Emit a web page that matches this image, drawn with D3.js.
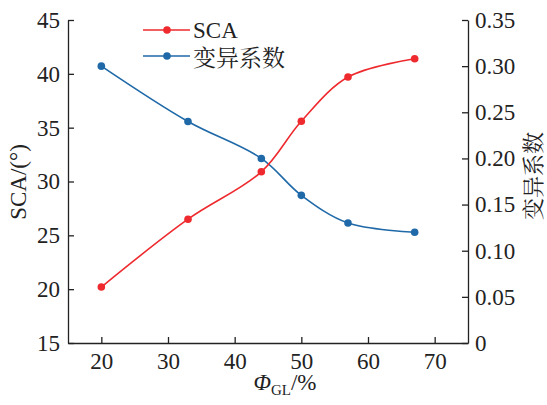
<!DOCTYPE html>
<html>
<head>
<meta charset="utf-8">
<script src="https://cdn.jsdelivr.net/npm/d3@7"></script>
<style>
  body { margin: 0; background: #fff; }
  .axis path, .axis line { stroke: #222; stroke-width: 1.3; }
</style>
</head>
<body>
<div id="chart"></div>
<script>
// data
var phiGL = [20, 33, 44, 50, 57, 67];
var sca = [20.2, 26.5, 30.9, 35.6, 39.7, 41.4];
var cv = [0.300, 0.240, 0.200, 0.160, 0.130, 0.120];
var xTicks = [20, 30, 40, 50, 60, 70];
var yLeftTicks = [15, 20, 25, 30, 35, 40, 45];
var yRightTicks = [0, 0.05, 0.10, 0.15, 0.20, 0.25, 0.30, 0.35];

var svgWidth = 547, svgHeight = 405;
var margin = { top: 20, right: 79, bottom: 62, left: 68 };
var width = svgWidth - margin.left - margin.right;
var height = svgHeight - margin.top - margin.bottom;

var serif = '"Liberation Serif", "Times New Roman", serif';
var cjk = '"Noto Serif CJK SC", "Liberation Serif", serif';
var red = "#ee2a2e", blue = "#1f69a8";

var svg = d3.select("#chart").append("svg")
    .attr("width", svgWidth)
    .attr("height", svgHeight);

var g = svg.append("g")
    .attr("transform", `translate(${margin.left}, ${margin.top})`);

var x = d3.scaleLinear().domain([15, 75]).range([0, width]);
var yL = d3.scaleLinear().domain([15, 45]).range([height, 0]);
var yR = d3.scaleLinear().domain([0, 0.35]).range([height, 0]);

// axes, ticks pointing inward
var xAxis = d3.axisBottom(x).tickValues(xTicks).tickSizeInner(-6).tickSizeOuter(0).tickPadding(10);
var yAxisL = d3.axisLeft(yL).tickValues(yLeftTicks).tickSizeInner(-6).tickSizeOuter(0).tickPadding(8);
var yAxisR = d3.axisRight(yR).tickValues(yRightTicks).tickSizeInner(-6).tickSizeOuter(0).tickPadding(7)
    .tickFormat(d => d === 0 ? "0" : d3.format(".2f")(d));

g.append("g").attr("class", "axis")
    .attr("transform", `translate(0, ${height})`)
    .call(xAxis);
g.append("g").attr("class", "axis").call(yAxisL);
g.append("g").attr("class", "axis")
    .attr("transform", `translate(${width}, 0)`)
    .call(yAxisR);

g.selectAll(".axis text")
    .style("font-family", serif)
    .style("font-size", "23px")
    .style("fill", "#222");

// lines
var lineL = d3.line().x((d, i) => x(phiGL[i])).y(d => yL(d)).curve(d3.curveCatmullRom.alpha(0.5));
var lineR = d3.line().x((d, i) => x(phiGL[i])).y(d => yR(d)).curve(d3.curveCatmullRom.alpha(0.5));

g.append("path").datum(cv)
    .attr("d", lineR).attr("fill", "none")
    .attr("stroke", blue).attr("stroke-width", 1.6);
g.append("path").datum(sca)
    .attr("d", lineL).attr("fill", "none")
    .attr("stroke", red).attr("stroke-width", 1.6);

g.selectAll(".ptR").data(cv).enter().append("circle")
    .attr("cx", (d, i) => x(phiGL[i])).attr("cy", d => yR(d))
    .attr("r", 3.8).attr("fill", blue);
g.selectAll(".ptL").data(sca).enter().append("circle")
    .attr("cx", (d, i) => x(phiGL[i])).attr("cy", d => yL(d))
    .attr("r", 3.8).attr("fill", red);

// legend
var legend = [
  { name: "SCA", color: red, y: 30, dy: 8, font: serif },
  { name: "变异系数", color: blue, y: 56, dy: 10, font: cjk }
];
legend.forEach(function(l) {
  svg.append("line").attr("x1", 143).attr("x2", 190)
      .attr("y1", l.y).attr("y2", l.y)
      .attr("stroke", l.color).attr("stroke-width", 1.6);
  svg.append("circle").attr("cx", 167).attr("cy", l.y).attr("r", 3.8).attr("fill", l.color);
  svg.append("text")
      .attr("x", 193).attr("y", l.y + l.dy)
      .style("font-family", l.font)
      .style("font-size", "23px")
      .style("fill", "#222")
      .text(l.name);
});

// axis titles
svg.append("text")
    .attr("transform", "translate(26, 182) rotate(-90)")
    .attr("text-anchor", "middle")
    .style("font-family", serif)
    .style("font-size", "23px")
    .style("fill", "#222")
    .text("SCA/(°)");

svg.append("text")
    .attr("transform", "translate(541, 176) rotate(-90)")
    .attr("text-anchor", "middle")
    .style("font-family", cjk)
    .style("font-size", "22px")
    .style("fill", "#222")
    .text("变异系数");

var xt = svg.append("text")
    .attr("x", 285).attr("y", 390)
    .attr("text-anchor", "middle")
    .style("font-family", serif)
    .style("font-size", "23px")
    .style("fill", "#222");
xt.append("tspan").style("font-style", "italic").text("Φ");
xt.append("tspan").style("font-size", "15px").attr("dy", 5).text("GL");
xt.append("tspan").attr("dy", -5).text("/%");
</script>
</body>
</html>
